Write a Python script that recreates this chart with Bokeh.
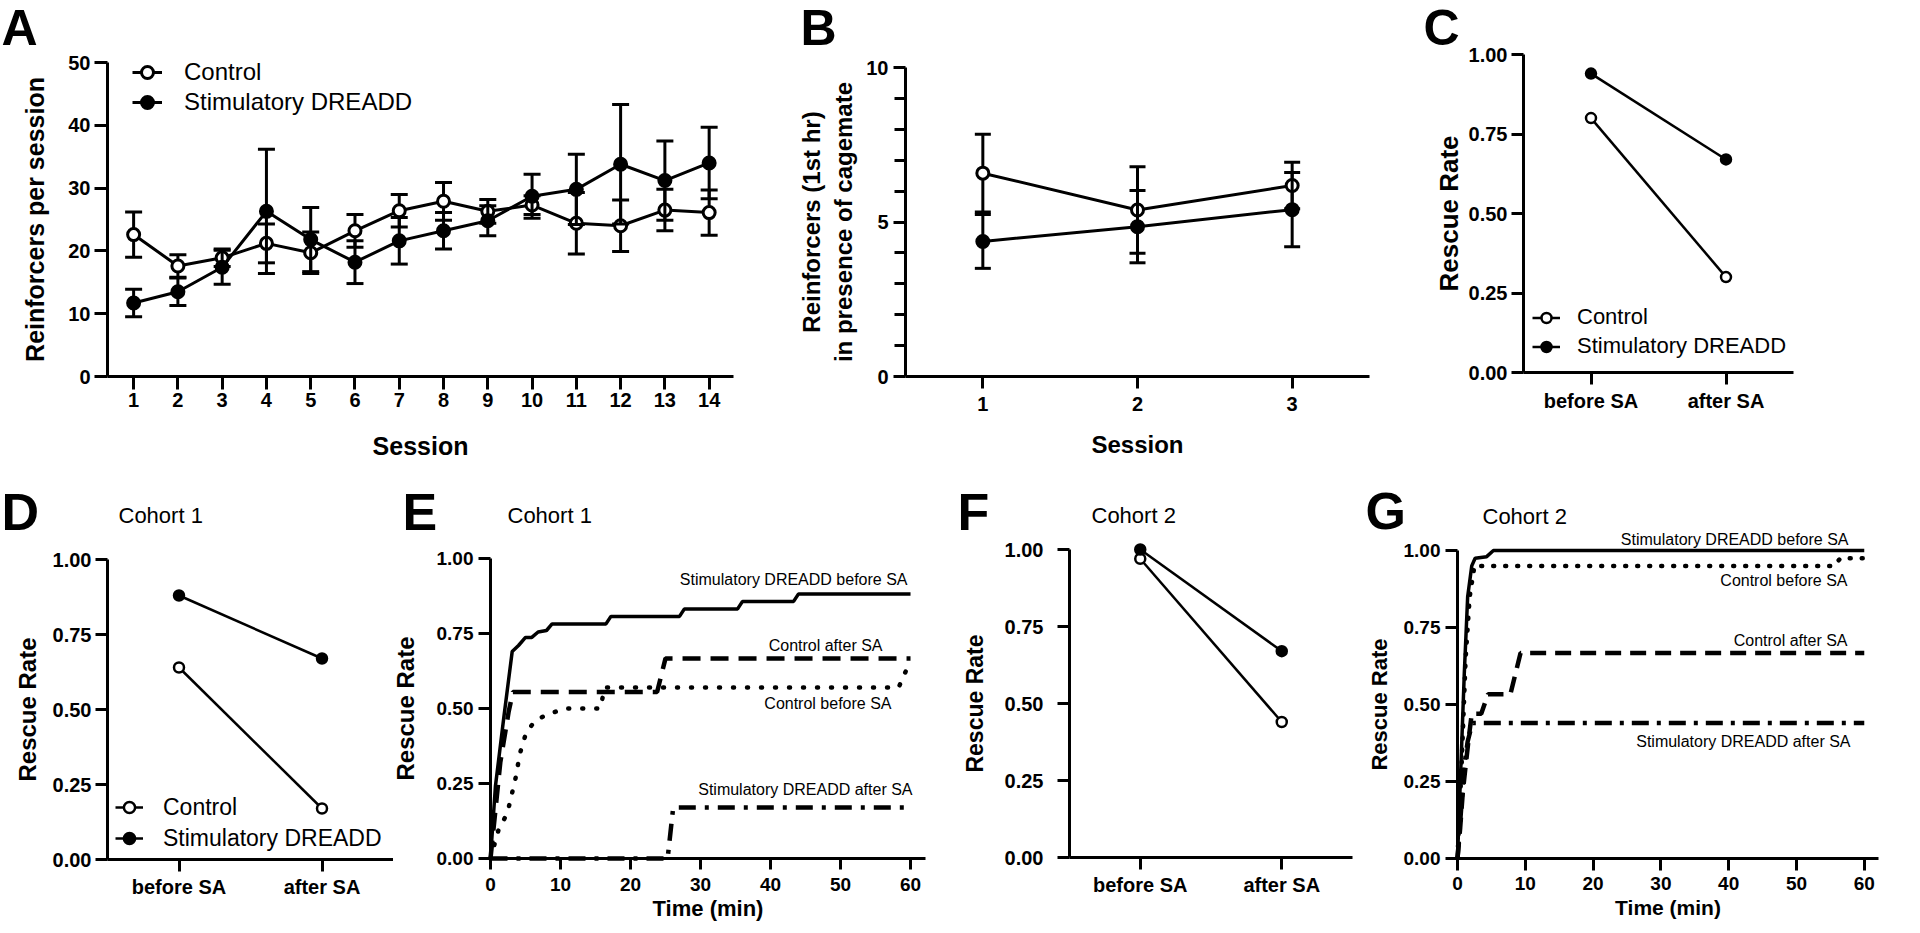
from bokeh.plotting import figure
from bokeh.layouts import row, column
from bokeh.models import Range1d, FixedTicker, NumeralTickFormatter, Label, Legend, LegendItem
from bokeh.embed import file_html
from bokeh.resources import INLINE

FONT = "Liberation Sans"

# ---------------- data ----------------
# Panel A: reinforcers per session (mean, SEM)
a_sessions = [1, 2, 3, 4, 5, 6, 7, 8, 9, 10, 11, 12, 13, 14]
a_ctrl_mean = [22.6, 17.6, 18.9, 21.2, 19.7, 23.2, 26.4, 27.9, 26.3, 27.3, 24.4, 24.0, 26.5, 26.1]
a_ctrl_sem = [3.6, 1.8, 1.4, 3.1, 3.3, 2.6, 2.6, 3.0, 1.9, 1.5, 4.9, 4.1, 3.3, 3.6]
a_dread_mean = [11.7, 13.5, 17.4, 26.3, 21.8, 18.2, 21.6, 23.2, 24.8, 28.7, 29.8, 33.8, 31.2, 34.0]
a_dread_sem = [2.2, 2.2, 2.7, 9.9, 5.1, 3.4, 3.7, 2.9, 2.4, 3.5, 5.6, 9.5, 6.3, 5.7]
a_yticks = [0, 10, 20, 30, 40, 50]

# Panel B: reinforcers (1st hr) in presence of cagemate
b_sessions = [1, 2, 3]
b_ctrl_mean = [6.58, 5.39, 6.18]
b_ctrl_sem = [1.26, 1.40, 0.75]
b_dread_mean = [4.37, 4.85, 5.40]
b_dread_sem = [0.87, 1.17, 1.20]
b_yticks = [0, 5, 10]
b_yminor = [1, 2, 3, 4, 6, 7, 8, 9]

# Panels C, D, F: rescue rate before / after SA
phases = ["before SA", "after SA"]
c_ctrl = [0.80, 0.30]
c_dread = [0.94, 0.67]
d_ctrl = [0.64, 0.17]
d_dread = [0.88, 0.67]
f_ctrl = [0.97, 0.44]
f_dread = [1.00, 0.67]
rate_ticks = [0, 0.25, 0.5, 0.75, 1.0]

# Panel E (cohort 1): cumulative rescue rate vs time (min)
e_stim_before_t = [0, 0.7, 1.9, 3.1, 4.0, 5.0, 5.9, 6.8, 8.0, 8.8, 16.5, 17.2, 27.0, 27.7, 35.3, 36.0, 43.3, 44.0, 60]
e_stim_before_v = [0, 0.24, 0.47, 0.69, 0.71, 0.737, 0.737, 0.755, 0.76, 0.782, 0.782, 0.807, 0.807, 0.832, 0.832, 0.857, 0.857, 0.882, 0.882]
e_ctrl_after_t = [0, 1.4, 2.6, 3.2, 23.8, 25.0, 60]
e_ctrl_after_v = [0, 0.32, 0.49, 0.555, 0.555, 0.667, 0.667]
e_ctrl_before_t = [0, 1.2, 2.4, 3.6, 4.2, 5.1, 6.4, 8.1, 10.7, 15.7, 16.3, 58.3, 60]
e_ctrl_before_v = [0, 0.10, 0.15, 0.27, 0.35, 0.42, 0.46, 0.48, 0.50, 0.50, 0.57, 0.57, 0.66]
e_stim_after_t = [0, 25.3, 26.1, 60]
e_stim_after_v = [0, 0, 0.17, 0.17]

# Panel G (cohort 2)
g_stim_before_t = [0, 0.5, 1.0, 1.5, 2.1, 2.6, 4.3, 5.3, 60]
g_stim_before_v = [0, 0.30, 0.60, 0.85, 0.95, 0.975, 0.98, 1.0, 1.0]
g_ctrl_before_t = [0, 0.6, 1.2, 1.8, 2.5, 55.5, 56.5, 60]
g_ctrl_before_v = [0, 0.30, 0.65, 0.85, 0.95, 0.95, 0.975, 0.975]
g_ctrl_after_t = [0, 0.4, 0.8, 1.2, 1.6, 2.1, 3.5, 4.5, 7.8, 9.3, 60]
g_ctrl_after_v = [0, 0.10, 0.22, 0.30, 0.38, 0.47, 0.47, 0.533, 0.533, 0.667, 0.667]
g_stim_after_t = [0, 0.5, 1.0, 1.5, 2.2, 60]
g_stim_after_v = [0, 0.15, 0.30, 0.38, 0.44, 0.44]
time_ticks = [0, 10, 20, 30, 40, 50, 60]

# ---------------- geometry (page pixels) ----------------
# fig = figure box on the page, frame = where the axes lie, xr/yr = data span of the axes
SPEC = {
    "A": dict(fig=(0, 0, 760, 460), frame=(107, 62, 733, 376), xr=(0.41, 14.55), yr=(0, 50)),
    "B": dict(fig=(760, 0, 1400, 460), frame=(905, 67, 1369, 376), xr=(0.5, 3.5), yr=(0, 10)),
    "C": dict(fig=(1400, 0, 1912, 460), frame=(1523, 54, 1793, 372), xr=(-0.5, 1.5), yr=(0, 1)),
    "D": dict(fig=(0, 460, 393, 930), frame=(107, 559, 393, 859), xr=(-0.5, 1.5), yr=(0, 1)),
    "E": dict(fig=(393, 460, 945, 930), frame=(490, 558, 925, 858), xr=(0, 62.14), yr=(0, 1)),
    "F": dict(fig=(945, 460, 1360, 930), frame=(1069, 549, 1352, 857), xr=(-0.5, 1.5), yr=(0, 1)),
    "G": dict(fig=(1360, 460, 1912, 930), frame=(1457, 550, 1878, 858), xr=(0, 62.1), yr=(0, 1)),
}


def at(spec, px, py):
    L, T, R, B = spec["frame"]
    x0, x1 = spec["xr"]
    y0, y1 = spec["yr"]
    return x0 + (px - L) / (R - L) * (x1 - x0), y1 - (py - T) / (B - T) * (y1 - y0)


def make_fig(spec, tick_px):
    fx0, fy0, fx1, fy1 = spec["fig"]
    L, T, R, B = spec["frame"]
    x0, x1 = spec["xr"]
    y0, y1 = spec["yr"]
    kx = (x1 - x0) / (R - L)
    ky = (y1 - y0) / (B - T)
    xr = Range1d(x0 - (L - fx0) * kx, x1 + (fx1 - R) * kx)
    yr = Range1d(y0 - (fy1 - B) * ky, y1 + (T - fy0) * ky)
    p = figure(frame_width=fx1 - fx0, frame_height=fy1 - fy0,
               min_border=0, min_border_left=0, min_border_right=0,
               min_border_top=0, min_border_bottom=0,
               x_range=xr, y_range=yr,
               output_backend="svg", toolbar_location=None, title=None)
    p.xgrid.visible = False
    p.ygrid.visible = False
    p.outline_line_color = None
    p.xaxis.fixed_location = y0
    p.xaxis.bounds = (x0, x1)
    p.yaxis.fixed_location = x0
    p.yaxis.bounds = (y0, y1)
    for ax in (p.xaxis[0], p.yaxis[0]):
        ax.axis_line_width = 3
        ax.axis_line_color = "black"
        ax.major_tick_line_width = 3
        ax.major_tick_line_color = "black"
        ax.major_tick_in = 0
        ax.major_tick_out = 12
        ax.minor_tick_line_color = None
        ax.major_label_text_font = FONT
        ax.major_label_text_font_style = "bold"
        ax.major_label_text_font_size = f"{tick_px}px"
        ax.major_label_text_color = "black"
        ax.axis_label_text_font = FONT
        ax.axis_label_text_font_style = "bold"
        ax.axis_label_text_color = "black"
    return p


def put_text(p, spec, px, py, text, size, bold=False, align="left", baseline="middle"):
    x, y = at(spec, px, py)
    p.add_layout(Label(x=x, y=y, text=text, text_font=FONT, text_font_size=f"{size}px",
                       text_font_style="bold" if bold else "normal", text_align=align,
                       text_baseline=baseline, text_color="black"))


def errbars(p, x, mean, sem, cap):
    lo = [m - s for m, s in zip(mean, sem)]
    hi = [m + s for m, s in zip(mean, sem)]
    p.segment(x0=x, y0=lo, x1=x, y1=hi, line_width=3, line_color="black")
    p.scatter(list(x) + list(x), lo + hi, marker="dash", size=cap, line_width=3, line_color="black")


def series(p, x, y, fill, size, lw, sem=None, cap=16):
    ln = p.line(x, y, line_width=lw, line_color="black")
    if sem is not None:
        errbars(p, x, y, sem, cap)
    sc = p.scatter(x, y, marker="circle", size=size, fill_color=fill, line_color="black", line_width=lw)
    return [ln, sc]


def add_legend(p, spec, items, left_px, bottom_px, fs, gw, gh, spacing, standoff):
    fx0, fy0, fx1, fy1 = spec["fig"]
    leg = Legend(items=[LegendItem(label=k, renderers=r) for k, r in items],
                 location=(left_px - fx0, fy1 - bottom_px),
                 label_text_font=FONT, label_text_font_size=f"{fs}px", label_text_color="black",
                 glyph_width=gw, glyph_height=gh, spacing=spacing, label_standoff=standoff,
                 padding=0, margin=0, border_line_color=None, background_fill_alpha=0)
    p.add_layout(leg)


# ---------------- Panel A ----------------
sA = SPEC["A"]
pA = make_fig(sA, 20)
pA.xaxis.ticker = FixedTicker(ticks=a_sessions)
pA.yaxis.ticker = FixedTicker(ticks=a_yticks)
pA.xaxis.major_tick_out = 13
pA.yaxis.major_tick_out = 13
pA.xaxis.major_label_standoff = 3
pA.yaxis.major_label_standoff = 4
pA.xaxis.axis_label = "Session"
pA.xaxis.axis_label_text_font_size = "25px"
pA.xaxis.axis_label_standoff = 22
pA.yaxis.axis_label = "Reinforcers per session"
pA.yaxis.axis_label_text_font_size = "25px"
pA.yaxis.axis_label_standoff = 16
rc = series(pA, a_sessions, a_ctrl_mean, "white", 12, 3, a_ctrl_sem, 17)
rd = series(pA, a_sessions, a_dread_mean, "black", 12, 3, a_dread_sem, 17)
add_legend(pA, sA, [("Control", rc), ("Stimulatory DREADD", rd)], 132, 117, 24, 30, 30, 0, 22)
put_text(pA, sA, 1, 27, "A", 50, bold=True)

# ---------------- Panel B ----------------
sB = SPEC["B"]
pB = make_fig(sB, 20)
pB.xaxis.ticker = FixedTicker(ticks=b_sessions)
pB.yaxis.ticker = FixedTicker(ticks=b_yticks, minor_ticks=b_yminor)
pB.yaxis.minor_tick_line_color = "black"
pB.yaxis.minor_tick_line_width = 3
pB.yaxis.minor_tick_in = 0
pB.yaxis.minor_tick_out = 11
pB.xaxis.major_label_standoff = 8
pB.yaxis.major_label_standoff = 5
pB.xaxis.axis_label = "Session"
pB.xaxis.axis_label_text_font_size = "24px"
pB.xaxis.axis_label_standoff = 17
pB.yaxis.axis_label = "Reinforcers (1st hr)\nin presence of cagemate"
pB.yaxis.axis_label_text_font_size = "24px"
pB.yaxis.axis_label_standoff = 6
series(pB, b_sessions, b_ctrl_mean, "white", 12, 3, b_ctrl_sem, 16)
series(pB, b_sessions, b_dread_mean, "black", 12, 3, b_dread_sem, 16)
put_text(pB, sB, 800, 27, "B", 50, bold=True)


# ---------------- before/after panels ----------------
def phase_panel(key, ctrl, dread, tick_px, ylab_px, ylab_standoff, ystand=4, xstand=4):
    s = SPEC[key]
    p = make_fig(s, tick_px)
    xs = list(range(len(phases)))
    p.xaxis.ticker = FixedTicker(ticks=xs)
    p.xaxis.major_label_overrides = {i: name for i, name in enumerate(phases)}
    p.yaxis.ticker = FixedTicker(ticks=rate_ticks)
    p.yaxis.formatter = NumeralTickFormatter(format="0.00")
    p.xaxis.major_label_standoff = xstand
    p.yaxis.major_label_standoff = ystand
    p.yaxis.axis_label = "Rescue Rate"
    p.yaxis.axis_label_text_font_size = f"{ylab_px}px"
    p.yaxis.axis_label_standoff = ylab_standoff
    rc = series(p, xs, ctrl, "white", 10, 2.5)
    rd = series(p, xs, dread, "black", 10, 2.5)
    return p, s, rc, rd


pC, sC, rc, rd = phase_panel("C", c_ctrl, c_dread, 20, 26, 2, xstand=5)
add_legend(pC, sC, [("Control", rc), ("Stimulatory DREADD", rd)], 1532, 359, 22, 28, 25, 3, 17)
put_text(pC, sC, 1423, 27, "C", 50, bold=True)

pD, sD, rc, rd = phase_panel("D", d_ctrl, d_dread, 20, 24, 9)
add_legend(pD, sD, [("Control", rc), ("Stimulatory DREADD", rd)], 115, 853, 23, 28, 30, 1, 20)
put_text(pD, sD, 1, 511, "D", 52, bold=True)
put_text(pD, sD, 118, 515, "Cohort 1", 22)

pF, sF, rc, rd = phase_panel("F", f_ctrl, f_dread, 20, 23, 14, ystand=14)
put_text(pF, sF, 957, 511, "F", 52, bold=True)
put_text(pF, sF, 1091, 515, "Cohort 2", 22)


# ---------------- time-course panels ----------------
def time_panel(key, curves, labels, tick_px, xlab_px, xlab_standoff, ylab_px, ylab_standoff, xstand, tick_out):
    s = SPEC[key]
    p = make_fig(s, tick_px)
    p.xaxis.ticker = FixedTicker(ticks=time_ticks)
    p.yaxis.ticker = FixedTicker(ticks=rate_ticks)
    p.yaxis.formatter = NumeralTickFormatter(format="0.00")
    p.xaxis.major_tick_out = tick_out
    p.xaxis.major_label_standoff = xstand
    p.yaxis.major_label_standoff = 5
    p.xaxis.axis_label = "Time (min)"
    p.xaxis.axis_label_text_font_size = f"{xlab_px}px"
    p.xaxis.axis_label_standoff = xlab_standoff
    p.yaxis.axis_label = "Rescue Rate"
    p.yaxis.axis_label_text_font_size = f"{ylab_px}px"
    p.yaxis.axis_label_standoff = ylab_standoff
    for t, v, dash, lw, cap in curves:
        p.line(t, v, line_color="black", line_width=lw, line_dash=dash, line_cap=cap)
    for text, px, py in labels:
        put_text(p, s, px, py, text, 16, align="right")
    return p, s


e_curves = [
    (e_ctrl_before_t, e_ctrl_before_v, "1 13", 4.5, "round"),
    (e_ctrl_after_t, e_ctrl_after_v, "18 10", 4.5, "butt"),
    (e_stim_after_t, e_stim_after_v, "17 9 4 9", 4.5, "butt"),
    (e_stim_before_t, e_stim_before_v, "solid", 3.5, "butt"),
]
e_labels = [
    ("Stimulatory DREADD before SA", 907, 579),
    ("Control after SA", 882, 645),
    ("Control before SA", 891, 703),
    ("Stimulatory DREADD after SA", 912, 789),
]
pE, sE = time_panel("E", e_curves, e_labels, 19, 22, 2, 24, 15, 8, 11)
put_text(pE, sE, 402, 511, "E", 52, bold=True)
put_text(pE, sE, 507, 515, "Cohort 1", 22)

g_curves = [
    (g_ctrl_before_t, g_ctrl_before_v, "1 11", 4.5, "round"),
    (g_ctrl_after_t, g_ctrl_after_v, "16 9", 4.5, "butt"),
    (g_stim_after_t, g_stim_after_v, "17 8 4 8", 4.5, "butt"),
    (g_stim_before_t, g_stim_before_v, "solid", 3.5, "butt"),
]
g_labels = [
    ("Stimulatory DREADD before SA", 1848, 539),
    ("Control before SA", 1847, 580),
    ("Control after SA", 1847, 640),
    ("Stimulatory DREADD after SA", 1850, 741),
]
pG, sG = time_panel("G", g_curves, g_labels, 19, 21, 3, 22, 9, 6, 12)
put_text(pG, sG, 1365, 510, "G", 52, bold=True)
put_text(pG, sG, 1482, 516, "Cohort 2", 22)

layout = column(row(pA, pB, pC), row(pD, pE, pF, pG))
open("out.html", "w").write(file_html(layout, INLINE))
